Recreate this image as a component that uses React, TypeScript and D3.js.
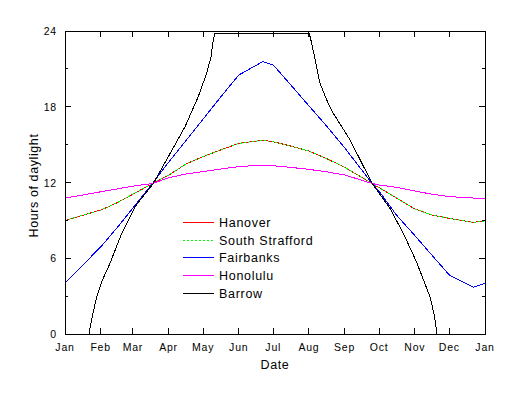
import React from "react";
import * as d3 from "d3";

// ---- data ----
const monthTickDays = [0, 31, 59, 90, 120, 151, 181, 212, 243, 273, 304, 334, 365];
const monthLabels = ["Jan", "Feb", "Mar", "Apr", "May", "Jun", "Jul", "Aug", "Sep", "Oct", "Nov", "Dec", "Jan"];
const yMajorTicks = [0, 6, 12, 18, 24];
const yMinorTicks = [3, 9, 15, 21];

const sampleDays = [0, 15, 32, 46, 59, 76, 90, 105, 120, 135, 151, 172, 181, 196, 212, 227, 243, 267, 273, 288, 304, 319, 334, 355, 365];

const hanover = [8.99, 9.39, 9.85, 10.43, 11.07, 11.92, 12.57, 13.46, 14.05, 14.57, 15.1, 15.35, 15.23, 14.89, 14.49, 13.91, 13.2, 11.92, 11.59, 10.78, 9.9, 9.43, 9.16, 8.84, 8.96];
const southStrafford = [8.99, 9.39, 9.85, 10.43, 11.07, 11.92, 12.57, 13.46, 14.05, 14.57, 15.1, 15.35, 15.23, 14.89, 14.49, 13.91, 13.2, 11.92, 11.59, 10.78, 9.9, 9.43, 9.16, 8.84, 8.96];
const fairbanks = [4.06, 5.41, 7.0, 8.5, 9.98, 11.92, 13.6, 15.31, 17.02, 18.74, 20.51, 21.58, 21.31, 19.75, 18.07, 16.51, 14.75, 11.92, 11.3, 9.43, 7.8, 6.23, 4.67, 3.7, 4.01];
const honolulu = [10.77, 11.0, 11.28, 11.5, 11.71, 11.92, 12.37, 12.67, 12.86, 13.06, 13.26, 13.38, 13.33, 13.2, 13.04, 12.85, 12.6, 11.92, 11.8, 11.62, 11.33, 11.07, 10.88, 10.77, 10.77];

const barrowDays = [21.1, 21.7, 23.7, 27.5, 31.9, 39.1, 49.3, 60.8, 76.7, 89.8, 104.3, 115.8, 123.1, 126.9, 128.9, 130.3, 212.3, 214.4, 221.6, 227.4, 233.2, 247.7, 267, 282.4, 294, 305.6, 317.2, 320.9, 322.4, 322.9];
const barrow = [0, 0.45, 1.37, 2.95, 4.14, 5.6, 7.98, 10.08, 11.92, 14.05, 16.42, 18.8, 20.65, 21.96, 23.3, 23.8, 23.8, 23.03, 19.86, 18.54, 17.48, 15.37, 11.92, 9.95, 7.98, 5.68, 2.95, 1.5, 0.58, 0];

const seriesNames = ["Hanover", "South Strafford", "Fairbanks", "Honolulu", "Barrow"];
const seriesColors = ["#ff0000", "#00ff00", "#0000ff", "#ff00ff", "#000000"];

export default function App() {
  const W = 522, H = 399;
  const left = 65, right = 485, top = 31, bottom = 334;
  const x = d3.scaleLinear().domain([0, 365]).range([left, right]);
  const y = d3.scaleLinear().domain([0, 24]).range([bottom, top]);
  const line = d3.line<[number, number]>().x(d => x(d[0])).y(d => y(d[1]));

  const series = [
    { days: sampleDays, vals: hanover, dash: undefined },
    { days: sampleDays, vals: southStrafford, dash: "2,2" },
    { days: sampleDays, vals: fairbanks, dash: undefined },
    { days: sampleDays, vals: honolulu, dash: undefined },
    { days: barrowDays, vals: barrow, dash: undefined },
  ];

  const font = "'Liberation Sans', Arial, sans-serif";
  const legX1 = 183, legX2 = 214, legTextX = 219, legY0 = 222.5, legStep = 17.7;

  return (
    <svg width={W} height={H} style={{ position: "absolute", left: 0, top: 0, background: "#fff" }} fontFamily={font}>
      <rect x={0} y={0} width={W} height={H} fill="#fff" />
      {/* data lines */}
      {series.map((s, i) => (
        <path
          key={i}
          d={line(s.days.map((d, j) => [d, s.vals[j]] as [number, number])) || ""}
          fill="none"
          stroke={seriesColors[i]}
          strokeWidth={1}
          strokeDasharray={s.dash}
          shapeRendering="crispEdges"
        />
      ))}
      {/* frame */}
      <rect x={left} y={top} width={right - left} height={bottom - top} fill="none" stroke="#000" strokeWidth={1} shapeRendering="crispEdges" />
      {/* x ticks */}
      {monthTickDays.map((d, i) => (
        <g key={"xt" + i} shapeRendering="crispEdges">
          <line x1={x(d)} x2={x(d)} y1={bottom} y2={bottom - 6} stroke="#000" />
          <line x1={x(d)} x2={x(d)} y1={top} y2={top + 6} stroke="#000" />
          <text x={x(d)} y={351} textAnchor="middle" fontSize={10.5} letterSpacing={0.8} fill="#000">{monthLabels[i]}</text>
        </g>
      ))}
      {/* y ticks */}
      {yMajorTicks.map((v, i) => (
        <g key={"yt" + i} shapeRendering="crispEdges">
          <line x1={left} x2={left + 6} y1={y(v)} y2={y(v)} stroke="#000" />
          <line x1={right} x2={right - 6} y1={y(v)} y2={y(v)} stroke="#000" />
          <text x={57} y={y(v) + 4} textAnchor="end" fontSize={10.5} letterSpacing={0.8} fill="#000">{v}</text>
        </g>
      ))}
      {yMinorTicks.map((v, i) => (
        <g key={"ym" + i} shapeRendering="crispEdges">
          <line x1={left} x2={left + 3} y1={y(v)} y2={y(v)} stroke="#000" />
          <line x1={right} x2={right - 3} y1={y(v)} y2={y(v)} stroke="#000" />
        </g>
      ))}
      {/* axis titles */}
      <text x={275} y={369} textAnchor="middle" fontSize={12.5} letterSpacing={0.6} fill="#000">Date</text>
      <text transform={`translate(37.5,${(top + bottom) / 2 + 3}) rotate(-90)`} textAnchor="middle" fontSize={12.5} letterSpacing={0.6} fill="#000">Hours of daylight</text>
      {/* legend */}
      {seriesNames.map((n, i) => (
        <g key={"lg" + i}>
          <line x1={legX1} x2={legX2} y1={legY0 + i * legStep} y2={legY0 + i * legStep} stroke={seriesColors[i]} strokeWidth={1} strokeDasharray={series[i].dash} shapeRendering="crispEdges" />
          <text x={legTextX} y={legY0 + i * legStep + 4.5} fontSize={12.5} letterSpacing={0.7} fill="#000">{n}</text>
        </g>
      ))}
    </svg>
  );
}
